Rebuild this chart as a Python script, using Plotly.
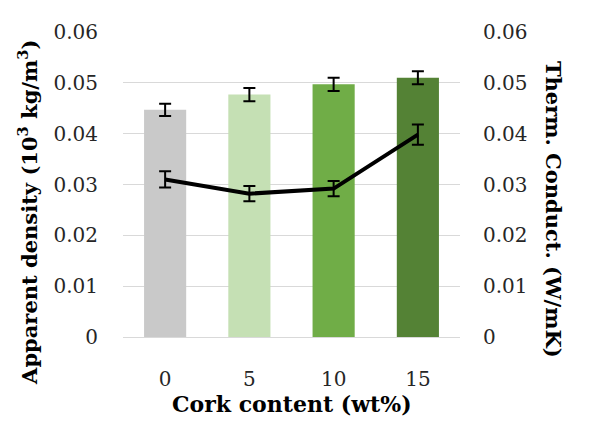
import plotly.graph_objects as go

# cork content categories
cork_content = ["0", "5", "10", "15"]

# apparent density (10^3 kg/m^3) with error
density = [0.0447, 0.0477, 0.0497, 0.0510]
density_err = [0.0012, 0.0013, 0.0013, 0.0013]

# thermal conductivity (W/mK) with error
conductivity = [0.0310, 0.0282, 0.0292, 0.0398]
conductivity_err = [0.0016, 0.0015, 0.0015, 0.0020]

tick_vals = [0, 0.01, 0.02, 0.03, 0.04, 0.05, 0.06]
tick_text = ["0", "0.01", "0.02", "0.03", "0.04", "0.05", "0.06"]

bar_colors = ["#C9C9C9", "#C5E0B4", "#70AD47", "#548235"]

FONT = "DejaVu Serif, Liberation Serif, serif"
GRID = "#D9D9D9"

fig = go.Figure()

fig.add_trace(
    go.Bar(
        x=cork_content,
        y=density,
        marker=dict(color=bar_colors, line=dict(width=0)),
        error_y=dict(type="data", array=density_err, color="black", thickness=2, width=6),
        showlegend=False,
    )
)

fig.add_trace(
    go.Scatter(
        x=cork_content,
        y=conductivity,
        mode="lines",
        line=dict(color="black", width=4),
        error_y=dict(type="data", array=conductivity_err, color="black", thickness=2, width=6),
        yaxis="y2",
        showlegend=False,
    )
)

axis_common = dict(
    range=[0, 0.06],
    tickvals=tick_vals,
    ticktext=tick_text,
    zeroline=False,
    showline=False,
    ticks="",
    tickfont=dict(family=FONT, size=20, color="#262626"),
    fixedrange=True,
)

# the page body adds 8px around the figure, so the figure is 8px smaller
fig.update_layout(
    width=584,
    height=423,
    margin=dict(l=115, r=132, t=16, b=94),
    paper_bgcolor="white",
    plot_bgcolor="white",
    bargap=0.5,
    xaxis=dict(
        showgrid=False,
        showline=True,
        linecolor=GRID,
        linewidth=1,
        ticks="",
        tickfont=dict(family=FONT, size=20, color="#262626"),
        ticklabelstandoff=24,
    ),
    yaxis=dict(
        **axis_common,
        showgrid=True,
        gridcolor=GRID,
        gridwidth=1,
        ticklabelstandoff=24,
    ),
    yaxis2=dict(
        **axis_common,
        overlaying="y",
        side="right",
        showgrid=False,
        ticklabelstandoff=22,
    ),
    annotations=[
        dict(
            text="<b>Apparent density (10<sup>3</sup> kg/m<sup>3</sup>)</b>",
            xref="paper", yref="paper", x=-0.282, y=0.41,
            xanchor="center", yanchor="middle", textangle=-90, showarrow=False,
            font=dict(family=FONT, size=21, color="black"),
        ),
        dict(
            text="<b>Therm. Conduct. (W/mK)</b>",
            xref="paper", yref="paper", x=1.276, y=0.42,
            xanchor="center", yanchor="middle", textangle=90, showarrow=False,
            font=dict(family=FONT, size=21, color="black"),
        ),
        dict(
            text="<b>Cork content (wt%)</b>",
            xref="paper", yref="paper", x=0.5, y=-0.219,
            xanchor="center", yanchor="middle", showarrow=False,
            font=dict(family=FONT, size=22, color="black"),
        ),
    ],
)

fig.write_html("out.html")
